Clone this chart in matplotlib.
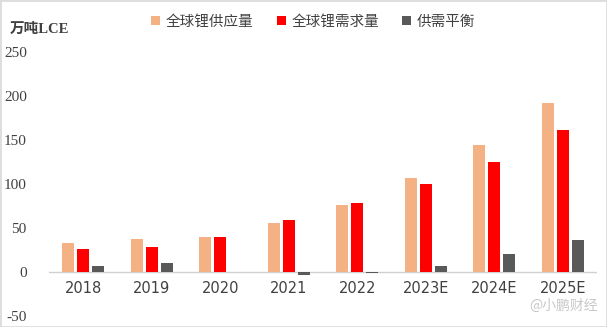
import numpy as np
import matplotlib.pyplot as plt
from matplotlib.patches import Rectangle

years = ["2018", "2019", "2020", "2021", "2022", "2023E", "2024E", "2025E"]
supply = [33, 38, 40, 56, 76, 107, 144, 192]
demand = [26, 28, 40, 59.5, 78, 100, 125, 161]
balance = [7, 10, 0, -3.5, -1.5, 7, 20, 36]

series_names = ["全球锂供应量", "全球锂需求量", "供需平衡"]
colors = ["#F4B183", "#FF0000", "#595959"]

plt.rcParams["font.family"] = ["Noto Sans CJK SC", "DejaVu Sans"]

fig = plt.figure(figsize=(6.07, 3.27), dpi=100)
ax = fig.add_axes([49 / 607, 11 / 327, 548 / 607, 264 / 327])

x = np.arange(len(years))
width = 0.17
offset = 0.22
for i, (vals, name, c) in enumerate(zip([supply, demand, balance], series_names, colors)):
    ax.bar(x + (i - 1) * offset, vals, width, color=c, label=name)

ax.set_xlim(-0.5, len(years) - 0.5)
ax.set_ylim(-50, 250)
ax.set_yticks([-50, 0, 50, 100, 150, 200, 250])
ax.set_yticklabels([str(v) for v in [-50, 0, 50, 100, 150, 200, 250]],
                   family="Liberation Serif", fontsize=11, color="#404040")
ax.tick_params(axis="y", length=0, pad=16)
ax.tick_params(axis="x", length=0, bottom=False)

for s in ["left", "right", "top", "bottom"]:
    ax.spines[s].set_visible(False)
ax.axhline(0, color="#D0D0D0", lw=1, zorder=0)

# x labels sit just below the zero line
ax.set_xticks([])
for xi, yr in zip(x, years):
    ax.text(xi, -10, yr, ha="center", va="top", fontsize=10.5,
            color="#404040", family=["DejaVu Sans"])

fig.text(10 / 607, 1 - 29 / 327, "万吨LCE", family=["Liberation Serif", "Noto Sans CJK SC"],
         fontsize=10.5, fontweight="bold", color="#404040", va="center")

ax.legend(loc="center left", bbox_to_anchor=(138 / 607, 1 - 22 / 327),
          bbox_transform=fig.transFigure, ncol=3, frameon=False,
          handlelength=0.6, handleheight=0.6, handletextpad=0.4,
          columnspacing=1.6, fontsize=10.5, labelcolor="#404040")

fig.text(598 / 607, 1 - 306 / 327, "@小鹏财经", ha="right", va="center",
         fontsize=10, color="#C8C8C8")

fig.patches.append(Rectangle((0, 0), 1, 1, transform=fig.transFigure,
                             fill=False, edgecolor="#DDDDDD", lw=2))

fig.savefig("out.png", dpi=100)
